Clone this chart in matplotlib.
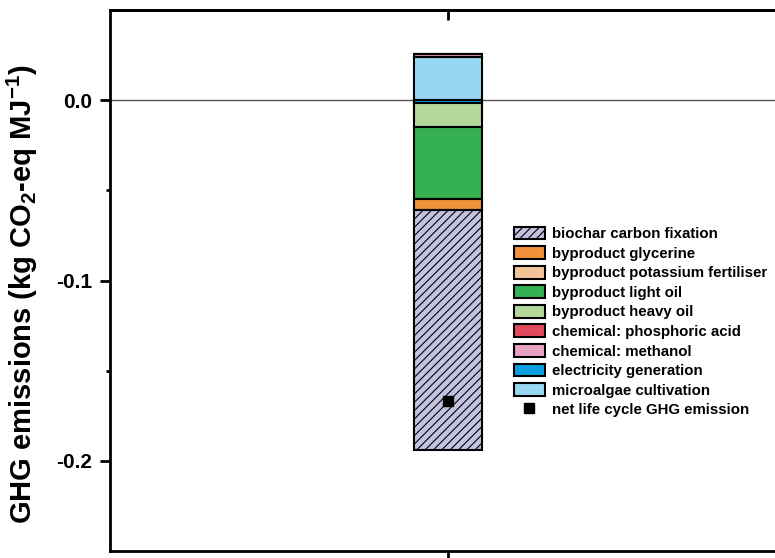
import matplotlib.pyplot as plt
import numpy as np

plt.rcParams['font.family'] = ['Liberation Sans', 'DejaVu Sans']
plt.rcParams['font.weight'] = 'bold'
plt.rcParams['mathtext.fontset'] = 'custom'
plt.rcParams['mathtext.bf'] = 'Liberation Sans:bold'
plt.rcParams['mathtext.rm'] = 'Liberation Sans:bold'
plt.rcParams['hatch.linewidth'] = 0.8

# GHG contributions per MJ (kg CO2-eq), legend order
categories = ['biochar carbon fixation', 'byproduct glycerine', 'byproduct potassium fertiliser',
              'byproduct light oil', 'byproduct heavy oil', 'chemical: phosphoric acid',
              'chemical: methanol', 'electricity generation', 'microalgae cultivation']
values = [-0.133, -0.0063, 0.0, -0.0395, -0.0133, 0.0, 0.002, -0.0018, 0.0237]
colors = ['#c2c2e0', '#f0923a', '#f3c498', '#35b050', '#b4d79c', '#e04a5a',
          '#eaa2c2', '#0aa0e0', '#98d7f2']
net_emission = -0.167

fig = plt.figure(figsize=(7.75, 5.58), dpi=100)
ax = fig.add_axes([110 / 775, 1 - 551 / 558, 676 / 775, 541 / 558])

x = 1.0
w = 0.2
# stack from the zero line outwards, last series closest to zero
pos_base, neg_base = 0.0, 0.0
handles = {}
for name, v, c in reversed(list(zip(categories, values, colors))):
    hatch = '////' if name.startswith('biochar') else None
    if v >= 0:
        b = ax.bar(x, v, w, bottom=pos_base, color=c, edgecolor='black', linewidth=1.5, hatch=hatch)
        pos_base += v
    else:
        b = ax.bar(x, v, w, bottom=neg_base, color=c, edgecolor='black', linewidth=1.5, hatch=hatch)
        neg_base += v
    handles[name] = b

net = ax.plot([x], [net_emission], 's', color='black', markersize=7, linestyle='none')[0]

ax.axhline(0, color='#555555', linewidth=1.0, zorder=0)

ax.set_xlim(0, 2)
ax.set_ylim(-0.25, 0.05)
ax.set_yticks([0.0, -0.1, -0.2])
ax.set_yticks([-0.05, -0.15], minor=True)
ax.set_yticklabels(['0.0', '-0.1', '-0.2'], fontsize=15, fontweight='bold')
ax.set_xticks([x])
ax.set_xticklabels([])
ax.tick_params(axis='y', which='major', direction='out', length=7, width=2, pad=6)
ax.tick_params(axis='y', which='minor', direction='out', length=3, width=2)
ax.tick_params(axis='x', which='major', direction='out', length=5, width=2)
for s in ax.spines.values():
    s.set_linewidth(2)

# top axis tick points inward
top = ax.secondary_xaxis('top')
top.set_xticks([x])
top.set_xticklabels([])
top.tick_params(direction='in', length=7, width=2)
top.spines['top'].set_linewidth(2)

ax.set_ylabel('GHG emissions (kg CO$_\\mathbf{2}$-eq MJ$^\\mathbf{-1}$)', fontsize=21,
              fontweight='bold')
ax.yaxis.set_label_coords(-0.103, 0.475)

leg_handles = [handles[n] for n in categories] + [net]
leg_labels = categories + ['net life cycle GHG emission']
ax.legend(leg_handles, leg_labels, loc='upper left', bbox_to_anchor=(506 / 775, 1 - 219 / 558),
          bbox_transform=fig.transFigure, frameon=False, borderpad=0,
          handlelength=2.1, handleheight=0.95, labelspacing=0.33, handletextpad=0.5,
          prop={'weight': 'bold', 'size': 10.8})

fig.savefig('out.png', dpi=100)
